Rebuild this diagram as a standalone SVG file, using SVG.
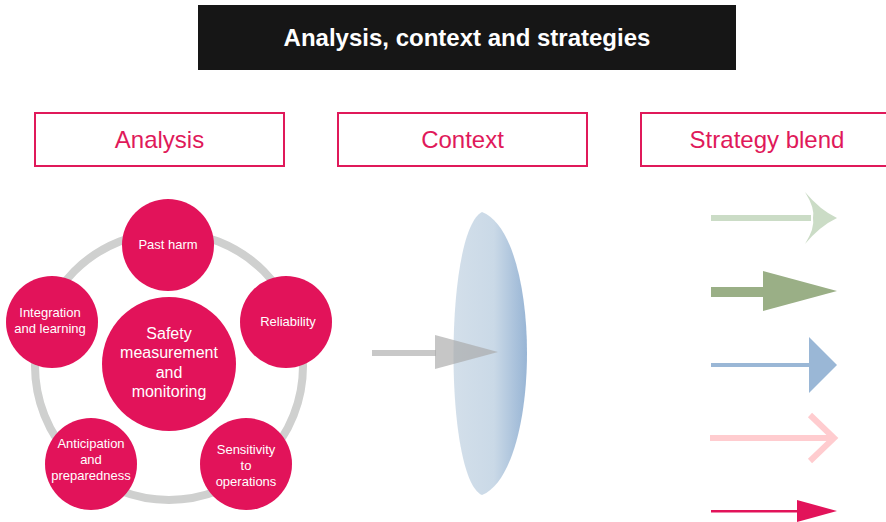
<svg xmlns="http://www.w3.org/2000/svg" width="886" height="522" viewBox="0 0 886 522">
<style>
.hdr{fill:#fff;stroke:#e0195a;stroke-width:2}
.hdrt{font-family:"Liberation Sans",Arial,sans-serif;font-size:24px;fill:#e0195a;text-anchor:middle}
.node{fill:#e2135a}
.nt{font-family:"Liberation Sans",Arial,sans-serif;font-size:13px;fill:#fff;text-anchor:middle}
.ct{font-family:"Liberation Sans",Arial,sans-serif;font-size:16px;fill:#fff;text-anchor:middle}
</style>
<defs>
<linearGradient id="lens" x1="0" y1="0" x2="1" y2="0">
<stop offset="0" stop-color="#d3dfea"/>
<stop offset="0.55" stop-color="#cad9e7"/>
<stop offset="1" stop-color="#98b5d5"/>
</linearGradient>
</defs>
<rect width="886" height="522" fill="#fff"/>
<g id="title">
<rect x="198" y="5" width="538" height="65" fill="#161616"/>
<text x="467" y="46" font-family="Liberation Sans,Arial,sans-serif" font-size="24" font-weight="bold" fill="#fff" text-anchor="middle">Analysis, context and strategies</text>
</g>
<g id="h-analysis"><rect class="hdr" x="35" y="113" width="249" height="53"/><text class="hdrt" x="159.500" y="148">Analysis</text></g>
<g id="h-context"><rect class="hdr" x="338" y="113" width="249" height="53"/><text class="hdrt" x="462.500" y="148">Context</text></g>
<g id="h-strategy"><rect class="hdr" x="641" y="113" width="250" height="53"/><text class="hdrt" x="767" y="148">Strategy blend</text></g>
<g id="connectors">
<circle cx="169" cy="366" r="134" fill="none" stroke="#cfd0cf" stroke-width="8"/>
</g>
<g id="n-center"><circle class="node" cx="169" cy="364" r="67"/>
<text class="ct" x="169" y="339">Safety</text><text class="ct" x="169" y="358">measurement</text><text class="ct" x="169" y="378">and</text><text class="ct" x="169" y="397">monitoring</text></g>
<g id="n-pastharm"><circle class="node" cx="168" cy="245" r="46"/><text class="nt" x="168" y="249">Past harm</text></g>
<g id="n-reliability"><circle class="node" cx="286" cy="322" r="46"/><text class="nt" x="288" y="326">Reliability</text></g>
<g id="n-sensitivity"><circle class="node" cx="246" cy="464" r="46"/><text class="nt" x="246" y="454">Sensitivity</text><text class="nt" x="246" y="470">to</text><text class="nt" x="246" y="486">operations</text></g>
<g id="n-anticipation"><circle class="node" cx="91" cy="464" r="46"/><text class="nt" x="91" y="448">Anticipation</text><text class="nt" x="91" y="464">and</text><text class="nt" x="91" y="480">preparedness</text></g>
<g id="n-integration"><circle class="node" cx="52" cy="322" r="46"/><text class="nt" x="50" y="317">Integration</text><text class="nt" x="50" y="333">and learning</text></g>
<g id="lens-group">
<path d="M482,212 C444,232 444,478 482,495 C542,470 542,235 482,212 Z" fill="url(#lens)"/>
<rect x="372" y="350" width="64" height="6" fill="#c8c8c8"/>
<polygon points="435,335 498,352 435,369" fill="#a8a8a8" fill-opacity="0.65"/>
</g>
<g id="strategy-arrows">
<rect x="711" y="215" width="100" height="6" fill="#cbdcc6"/>
<path d="M805,192 Q820,210 837,218 Q820,226 805,244 Q815,228 813,218 Q815,208 805,192 Z" fill="#cbdcc6"/>
<rect x="711" y="287" width="54" height="10" fill="#9aaf86"/>
<polygon points="763,271 837,291 763,311" fill="#9aaf86"/>
<rect x="711" y="363" width="100" height="4" fill="#9ab7d6"/>
<polygon points="809,337 837,365 809,393" fill="#9ab7d6"/>
<rect x="710" y="435" width="124" height="6" fill="#ffcccf"/>
<polyline points="810,415 834,438 810,461" fill="none" stroke="#ffcccf" stroke-width="6"/>
<rect x="711" y="510" width="88" height="2.500" fill="#e2135a"/>
<polygon points="797,500 837,511 797,522" fill="#e2135a"/>
</g>
</svg>
